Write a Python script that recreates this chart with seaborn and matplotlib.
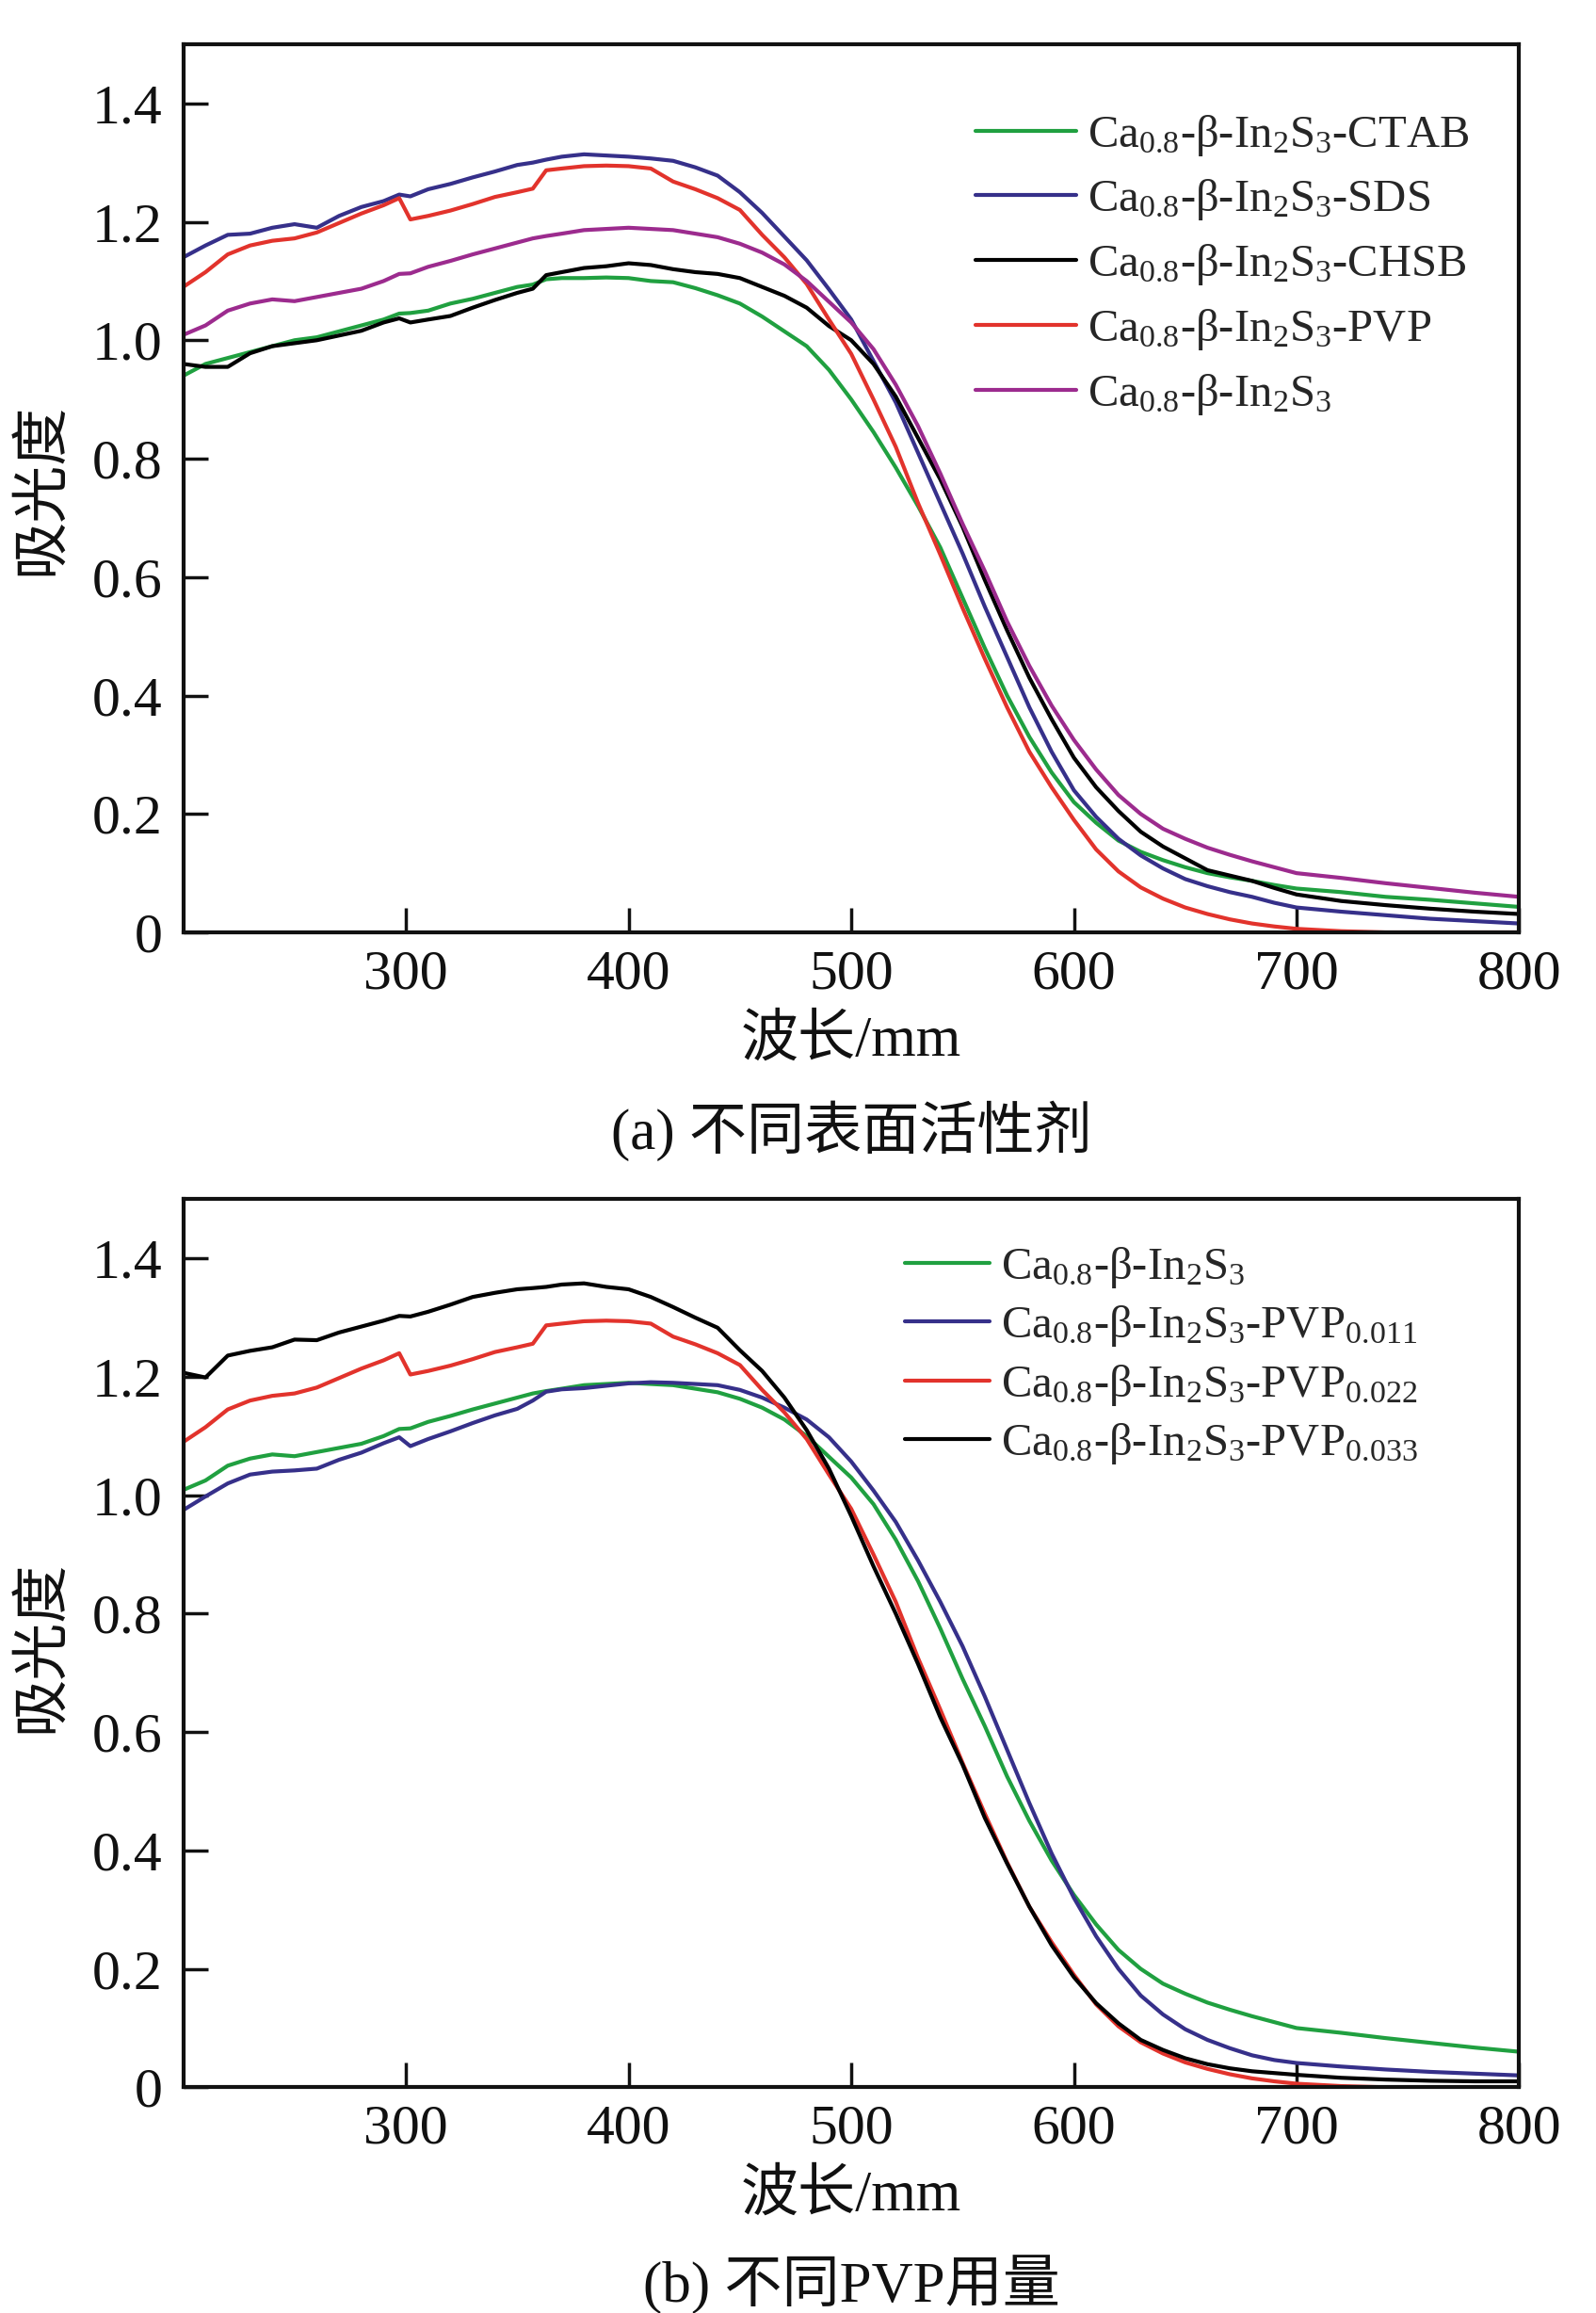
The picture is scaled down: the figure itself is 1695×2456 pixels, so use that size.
import matplotlib
matplotlib.use("Agg")
import matplotlib.pyplot as plt
import seaborn as sns
import pandas as pd
from matplotlib.ticker import FuncFormatter

# wavelength grid (nm) shared by all curves
WAVELENGTH = [200, 210, 220, 230, 240, 250, 260, 270, 280, 290,
              297, 302, 310, 320, 330, 340, 350, 357, 363, 370,
              380, 390, 400, 410, 420, 430, 440, 450, 460, 470,
              480, 490, 500, 510, 520, 530, 540, 550, 560, 570,
              580, 590, 600, 610, 620, 630, 640, 650, 660, 670,
              680, 690, 700, 720, 740, 760, 780, 800]

# (a) different surfactants
ABS_CTAB = [0.94, 0.96, 0.97, 0.98, 0.99, 1.00, 1.005, 1.015, 1.025, 1.035,
            1.045, 1.046, 1.05, 1.062, 1.07, 1.08, 1.09, 1.094, 1.103, 1.105,
            1.105, 1.106, 1.105, 1.10, 1.098, 1.088, 1.076, 1.062, 1.04, 1.015,
            0.99, 0.95, 0.90, 0.845, 0.785, 0.72, 0.65, 0.565, 0.48, 0.40,
            0.33, 0.27, 0.22, 0.185, 0.155, 0.136, 0.122, 0.11, 0.10, 0.093,
            0.087, 0.08, 0.074, 0.068, 0.06, 0.055, 0.049, 0.043]
ABS_SDS = [1.14, 1.16, 1.178, 1.18, 1.19, 1.196, 1.19, 1.21, 1.225, 1.235,
           1.246, 1.243, 1.255, 1.264, 1.275, 1.285, 1.296, 1.30, 1.305, 1.31,
           1.314, 1.312, 1.31, 1.307, 1.303, 1.292, 1.278, 1.25, 1.215, 1.175,
           1.135, 1.086, 1.035, 0.965, 0.895, 0.81, 0.725, 0.64, 0.55, 0.465,
           0.38, 0.305, 0.24, 0.195, 0.158, 0.13, 0.108, 0.09, 0.078, 0.068,
           0.06, 0.05, 0.042, 0.035, 0.029, 0.023, 0.019, 0.015]
ABS_CHSB = [0.96, 0.955, 0.955, 0.978, 0.99, 0.995, 1.0, 1.008, 1.016, 1.03,
            1.037, 1.03, 1.035, 1.041, 1.055, 1.068, 1.08, 1.087, 1.11, 1.115,
            1.122, 1.125, 1.13, 1.127, 1.12, 1.115, 1.112, 1.105, 1.09, 1.075,
            1.055, 1.024, 1.0, 0.96, 0.905, 0.835, 0.765, 0.685, 0.595, 0.51,
            0.43, 0.36, 0.295, 0.245, 0.205, 0.17, 0.145, 0.125, 0.105, 0.096,
            0.087, 0.075, 0.064, 0.053, 0.046, 0.04, 0.035, 0.031]
ABS_PVP = [1.09, 1.115, 1.145, 1.16, 1.168, 1.172, 1.182, 1.198, 1.214, 1.228,
           1.24, 1.204, 1.21, 1.219, 1.23, 1.242, 1.25, 1.256, 1.287, 1.29,
           1.294, 1.295, 1.294, 1.29, 1.268, 1.255, 1.24, 1.22, 1.178, 1.14,
           1.095, 1.035, 0.977, 0.90, 0.82, 0.725, 0.638, 0.548, 0.462, 0.38,
           0.305, 0.245, 0.19, 0.14, 0.103, 0.076, 0.057, 0.042, 0.031, 0.022,
           0.015, 0.01, 0.006, 0.002, 0.0, 0.0, 0.0, 0.0]
ABS_BARE = [1.009, 1.025, 1.05, 1.062, 1.069, 1.066, 1.073, 1.08, 1.087, 1.10,
            1.112, 1.113, 1.124, 1.134, 1.145, 1.155, 1.165, 1.172, 1.176, 1.18,
            1.186, 1.188, 1.19, 1.188, 1.186, 1.18, 1.174, 1.163, 1.148, 1.128,
            1.10, 1.065, 1.03, 0.985, 0.925, 0.855, 0.775, 0.69, 0.61, 0.525,
            0.45, 0.383, 0.325, 0.275, 0.232, 0.20, 0.175, 0.158, 0.143, 0.131,
            0.12, 0.11, 0.10, 0.092, 0.083, 0.075, 0.067, 0.06]

# (b) different PVP dosage (0.022 is the PVP sample of panel a)
ABS_PVP_011 = [0.975, 0.998, 1.02, 1.035, 1.04, 1.042, 1.045, 1.06, 1.072, 1.088,
               1.098, 1.083, 1.095, 1.108, 1.122, 1.135, 1.146, 1.16, 1.175, 1.179,
               1.181, 1.185, 1.189, 1.191, 1.19, 1.188, 1.186, 1.178, 1.165, 1.148,
               1.128, 1.098, 1.057, 1.008, 0.955, 0.89, 0.82, 0.745, 0.66, 0.57,
               0.48, 0.395, 0.32, 0.255, 0.2, 0.155, 0.123, 0.098, 0.08, 0.066,
               0.054, 0.046, 0.041, 0.035, 0.03, 0.026, 0.023, 0.02]
ABS_PVP_022 = ABS_PVP
ABS_PVP_033 = [1.207, 1.199, 1.236, 1.244, 1.25, 1.263, 1.262, 1.275, 1.285, 1.295,
               1.303, 1.302, 1.31, 1.322, 1.335, 1.342, 1.348, 1.35, 1.352, 1.356,
               1.358, 1.352, 1.348, 1.335, 1.318, 1.30, 1.283, 1.245, 1.21, 1.165,
               1.11, 1.045, 0.965, 0.88, 0.80, 0.715, 0.625, 0.545, 0.455, 0.378,
               0.305, 0.24, 0.186, 0.142, 0.108, 0.08, 0.063, 0.049, 0.039, 0.032,
               0.027, 0.024, 0.021, 0.016, 0.013, 0.011, 0.01, 0.01]

GREEN = "#20a040"
NAVY = "#36308a"
BLACK = "#000000"
RED = "#e2332c"
MAGENTA = "#9c2b8e"

BASE = r"Ca$_{\mathregular{0.8}}$-β-In$_{\mathregular{2}}$S$_{\mathregular{3}}$"

SERIES_A = [
    (ABS_CTAB, GREEN, BASE + "-CTAB"),
    (ABS_SDS, NAVY, BASE + "-SDS"),
    (ABS_CHSB, BLACK, BASE + "-CHSB"),
    (ABS_PVP, RED, BASE + "-PVP"),
    (ABS_BARE, MAGENTA, BASE),
]
SERIES_B = [
    (ABS_BARE, GREEN, BASE),
    (ABS_PVP_011, NAVY, BASE + r"-PVP$_{\mathregular{0.011}}$"),
    (ABS_PVP_022, RED, BASE + r"-PVP$_{\mathregular{0.022}}$"),
    (ABS_PVP_033, BLACK, BASE + r"-PVP$_{\mathregular{0.033}}$"),
]

sns.set_theme(style="ticks")
plt.rcParams["font.family"] = ["Liberation Serif", "Noto Sans CJK SC"]
plt.rcParams["mathtext.fontset"] = "custom"
plt.rcParams["mathtext.rm"] = "Liberation Serif"
plt.rcParams["mathtext.it"] = "Liberation Serif:italic"
plt.rcParams["axes.unicode_minus"] = False


def draw_panel(ax, series, legend_anchor, handlelength, labelspacing):
    for values, color, label in series:
        df = pd.DataFrame({"wl": WAVELENGTH, "a": values})
        sns.lineplot(data=df, x="wl", y="a", ax=ax, color=color,
                     linewidth=3.0, label=label, sort=True)
    ax.set_xlim(200, 800)
    ax.set_ylim(0, 1.5)
    ax.set_xticks([300, 400, 500, 600, 700, 800])
    ax.set_yticks([0, 0.2, 0.4, 0.6, 0.8, 1.0, 1.2, 1.4])
    ax.yaxis.set_major_formatter(
        FuncFormatter(lambda v, _: "0" if abs(v) < 1e-9 else f"{v:.1f}"))
    ax.tick_params(direction="in", length=19, width=2.5, labelsize=43,
                   colors="#111111", top=False, right=False)
    ax.tick_params(axis="y", pad=16)
    ax.tick_params(axis="x", pad=13)
    for sp in ax.spines.values():
        sp.set_linewidth(3)
        sp.set_color("#111111")
    ax.set_xlabel("")
    ax.set_ylabel("")
    ax.legend(loc="upper left", bbox_to_anchor=legend_anchor, frameon=False,
              fontsize=35, handlelength=handlelength, handletextpad=0.25,
              labelspacing=labelspacing, borderaxespad=0, borderpad=0)


fig = plt.figure(figsize=(16.95, 24.56), dpi=100)
ax_a = fig.add_axes([0.1148, 0.5969, 0.8371, 0.3840])
ax_b = fig.add_axes([0.1148, 0.0976, 0.8371, 0.3839])

draw_panel(ax_a, SERIES_A, (0.593, 0.923), 2.2, 0.43)
draw_panel(ax_b, SERIES_B, (0.54, 0.949), 1.85, 0.3)

txt = dict(ha="center", va="center", color="#111111")
fig.text(0.026, 0.7885, "吸光度", rotation=90, fontsize=44, **txt)
fig.text(0.026, 0.288, "吸光度", rotation=90, fontsize=44, **txt)
fig.text(0.5333, 0.5497, "波长/mm", fontsize=44, **txt)
fig.text(0.5333, 0.0509, "波长/mm", fontsize=44, **txt)
fig.text(0.5333, 0.5112, "(a) 不同表面活性剂", fontsize=44, **txt)
fig.text(0.5333, 0.0126, "(b) 不同PVP用量", fontsize=44, **txt)

fig.savefig("out.png", dpi=100, facecolor="white")
